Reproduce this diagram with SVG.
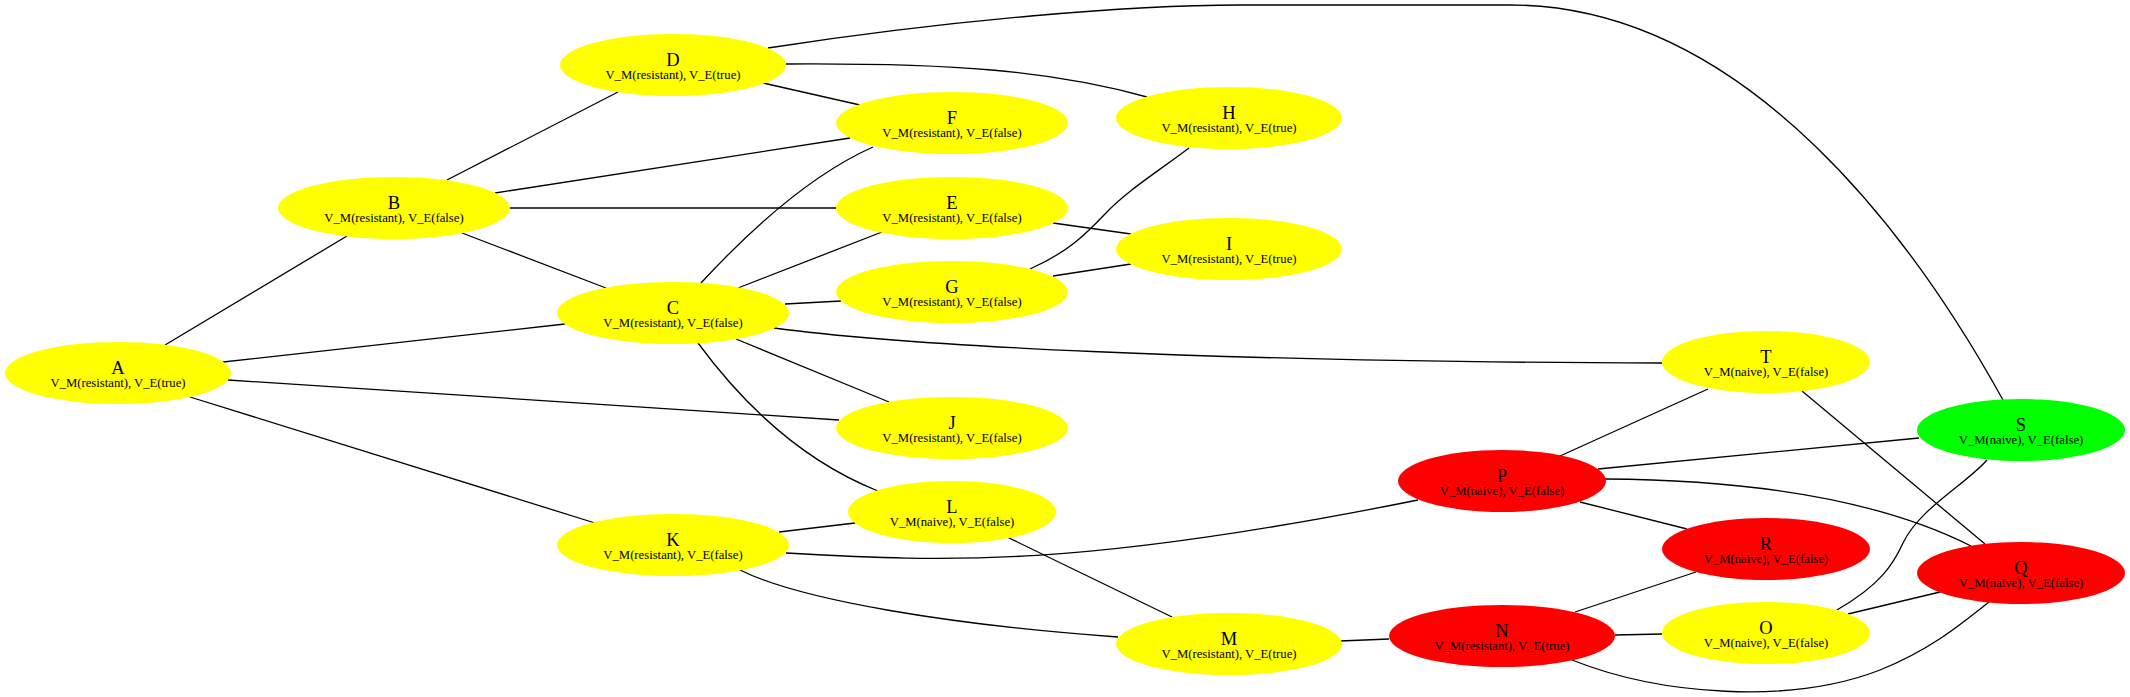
<svg xmlns="http://www.w3.org/2000/svg" width="2130" height="697" viewBox="0 0 2130 697">
<style>
.e{fill:none;stroke:#000;stroke-width:1.3}
.y{fill:#ffff00}
.r{fill:#ff0000}
.g{fill:#00ff00}
.t{font-family:"Liberation Serif","Times New Roman",serif;font-size:18.5px;text-anchor:middle;fill:#000}
.s{font-family:"Liberation Serif","Times New Roman",serif;font-size:12.7px;text-anchor:middle;fill:#000}
</style>
<rect width="2130" height="697" fill="#fff"/>
<g id="edges">
<path class="e" d="M768,48 C950,20 1130,5 1240,5 L1510,5 C1750,5 1920,250 2003,400"/>
<path class="e" d="M786,64 C950,63 1050,70 1147,97"/>
<path class="e" d="M763,83 L860,105"/>
<path class="e" d="M447,180 L618,92"/>
<path class="e" d="M495,193 L850,138"/>
<path class="e" d="M510,208 L836,208"/>
<path class="e" d="M462,233 L606,288"/>
<path class="e" d="M165,345 L347,236"/>
<path class="e" d="M223,362 L565,324"/>
<path class="e" d="M228,380 L839,420"/>
<path class="e" d="M190,397 L595,523"/>
<path class="e" d="M701,283 C750,230 810,175 873,147"/>
<path class="e" d="M738,288 L882,232"/>
<path class="e" d="M785,304 L841,301"/>
<path class="e" d="M774,328 C900,345 1200,362 1662,363"/>
<path class="e" d="M736,339 L889,402"/>
<path class="e" d="M698,343 C740,400 800,460 878,491"/>
<path class="e" d="M1053,223 L1131,234"/>
<path class="e" d="M1030,269 C1068,252 1085,235 1105,214 C1125,192 1160,170 1189,148"/>
<path class="e" d="M1053,276 L1131,264"/>
<path class="e" d="M779,532 L855,523"/>
<path class="e" d="M786,553 C950,562 1080,568 1418,500"/>
<path class="e" d="M740,570 C800,600 950,625 1118,637"/>
<path class="e" d="M1007,537 L1172,617"/>
<path class="e" d="M1340,641 L1389,639"/>
<path class="e" d="M1615,635 L1662,634"/>
<path class="e" d="M1575,612 L1696,572"/>
<path class="e" d="M1572,660 C1660,695 1790,705 1880,670 C1930,650 1960,625 1989,602"/>
<path class="e" d="M1837,610 C1880,585 1893,565 1903,543 C1920,508 1965,485 1987,460"/>
<path class="e" d="M1848,614 L1940,592"/>
<path class="e" d="M1560,456 L1708,389"/>
<path class="e" d="M1598,469 L1919,438"/>
<path class="e" d="M1605,479 C1750,480 1880,500 1971,546"/>
<path class="e" d="M1580,502 L1687,529"/>
<path class="e" d="M1802,391 L1985,544"/>
</g>
<g id="A"><ellipse class="y" cx="118" cy="373" rx="113" ry="31"/><text class="t" x="118" y="374">A</text><text class="s" x="118" y="387">V_M(resistant), V_E(true)</text></g>
<g id="B"><ellipse class="y" cx="394" cy="208" rx="116" ry="31"/><text class="t" x="394" y="209">B</text><text class="s" x="394" y="222">V_M(resistant), V_E(false)</text></g>
<g id="C"><ellipse class="y" cx="673" cy="313" rx="116" ry="31"/><text class="t" x="673" y="314">C</text><text class="s" x="673" y="327">V_M(resistant), V_E(false)</text></g>
<g id="D"><ellipse class="y" cx="673" cy="65" rx="113" ry="31"/><text class="t" x="673" y="66">D</text><text class="s" x="673" y="79">V_M(resistant), V_E(true)</text></g>
<g id="E"><ellipse class="y" cx="952" cy="208" rx="116" ry="31"/><text class="t" x="952" y="209">E</text><text class="s" x="952" y="222">V_M(resistant), V_E(false)</text></g>
<g id="F"><ellipse class="y" cx="952" cy="123" rx="116" ry="31"/><text class="t" x="952" y="124">F</text><text class="s" x="952" y="137">V_M(resistant), V_E(false)</text></g>
<g id="G"><ellipse class="y" cx="952" cy="292" rx="116" ry="31"/><text class="t" x="952" y="293">G</text><text class="s" x="952" y="306">V_M(resistant), V_E(false)</text></g>
<g id="H"><ellipse class="y" cx="1229" cy="118" rx="113" ry="31"/><text class="t" x="1229" y="119">H</text><text class="s" x="1229" y="132">V_M(resistant), V_E(true)</text></g>
<g id="I"><ellipse class="y" cx="1229" cy="249" rx="113" ry="31"/><text class="t" x="1229" y="250">I</text><text class="s" x="1229" y="263">V_M(resistant), V_E(true)</text></g>
<g id="J"><ellipse class="y" cx="952" cy="428" rx="116" ry="31"/><text class="t" x="952" y="429">J</text><text class="s" x="952" y="442">V_M(resistant), V_E(false)</text></g>
<g id="K"><ellipse class="y" cx="673" cy="545" rx="116" ry="31"/><text class="t" x="673" y="546">K</text><text class="s" x="673" y="559">V_M(resistant), V_E(false)</text></g>
<g id="L"><ellipse class="y" cx="952" cy="512" rx="104" ry="31"/><text class="t" x="952" y="513">L</text><text class="s" x="952" y="526">V_M(naive), V_E(false)</text></g>
<g id="M"><ellipse class="y" cx="1229" cy="644" rx="113" ry="31"/><text class="t" x="1229" y="645">M</text><text class="s" x="1229" y="658">V_M(resistant), V_E(true)</text></g>
<g id="N"><ellipse class="r" cx="1502" cy="636" rx="113" ry="31"/><text class="t" x="1502" y="637">N</text><text class="s" x="1502" y="650">V_M(resistant), V_E(true)</text></g>
<g id="O"><ellipse class="y" cx="1766" cy="633" rx="104" ry="31"/><text class="t" x="1766" y="634">O</text><text class="s" x="1766" y="647">V_M(naive), V_E(false)</text></g>
<g id="P"><ellipse class="r" cx="1502" cy="481" rx="104" ry="31"/><text class="t" x="1502" y="482">P</text><text class="s" x="1502" y="495">V_M(naive), V_E(false)</text></g>
<g id="Q"><ellipse class="r" cx="2021" cy="573" rx="104" ry="31"/><text class="t" x="2021" y="574">Q</text><text class="s" x="2021" y="587">V_M(naive), V_E(false)</text></g>
<g id="R"><ellipse class="r" cx="1766" cy="549" rx="104" ry="31"/><text class="t" x="1766" y="550">R</text><text class="s" x="1766" y="563">V_M(naive), V_E(false)</text></g>
<g id="S"><ellipse class="g" cx="2021" cy="430" rx="104" ry="31"/><text class="t" x="2021" y="431">S</text><text class="s" x="2021" y="444">V_M(naive), V_E(false)</text></g>
<g id="T"><ellipse class="y" cx="1766" cy="362" rx="104" ry="31"/><text class="t" x="1766" y="363">T</text><text class="s" x="1766" y="376">V_M(naive), V_E(false)</text></g>
</svg>
